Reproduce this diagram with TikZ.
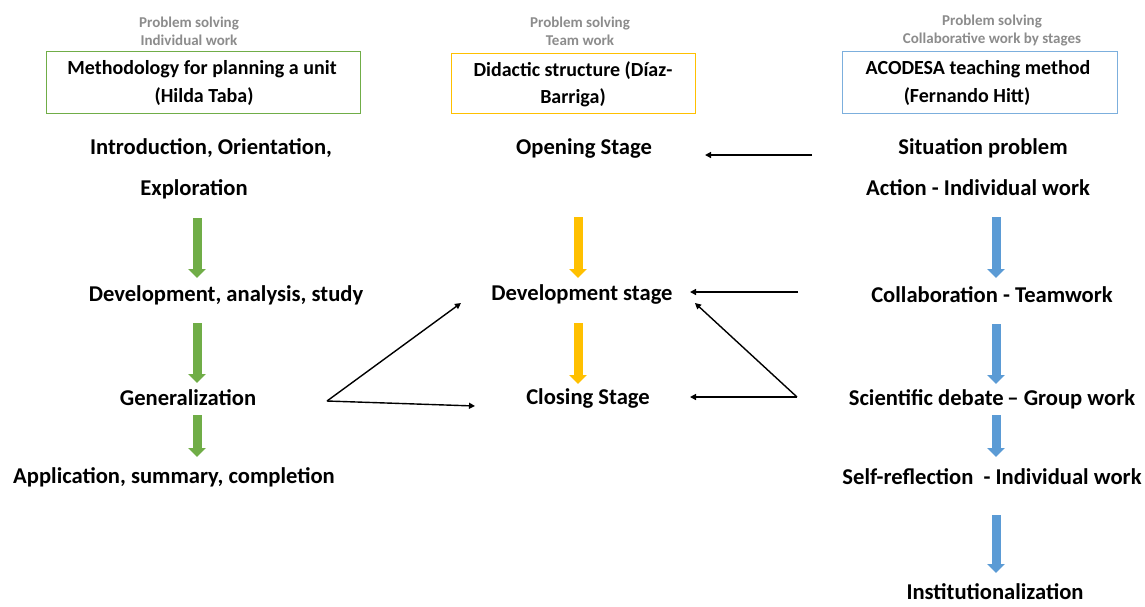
\documentclass[tikz,border=0pt]{standalone}
\usepackage{fontspec}
\setmainfont{Carlito}
\usetikzlibrary{arrows.meta}
\definecolor{cgreen}{HTML}{70AD47}
\definecolor{cyellow}{HTML}{FFC000}
\definecolor{cblue}{HTML}{5B9BD5}
\definecolor{cgray}{HTML}{8C8C8C}
\tikzset{
  hdr/.style={font=\fontsize{15}{18}\selectfont\bfseries, text=cgray, align=center, inner sep=0},
  boxtxt/.style={font=\fontsize{20}{24}\selectfont\bfseries, inner sep=0},
  item/.style={font=\fontsize{22.6}{26}\selectfont\bfseries, inner sep=0},
  frame/.style={draw=#1, line width=1pt},
  blockarrow/.style={draw=#1, line width=9pt, -{Triangle[width=17pt,length=9pt,fill=#1]}},
  link/.style={draw=black, line width=1.4pt, -{Triangle[width=6pt,length=6pt]}}
}
\begin{document}
\begin{tikzpicture}[x=1pt,y=-1pt]
\useasboundingbox (0,0) rectangle (1145,606);
\fill[white] (0,0) rectangle (1145,606);
% headers
\node[hdr] (h1) at (189,31) {Problem solving\\Individual work};
\node[hdr] (h2) at (580,31) {Problem solving\\Team work};
\node[hdr] (h3) at (992,31) {Problem solving\\Collaborative work by stages};
% boxes
\draw[frame=cgreen] (46,51) rectangle (360,113);
\draw[frame=cyellow] (451,53) rectangle (695,113);
\draw[frame=cblue!80] (842,51) rectangle (1117,113);
\node[boxtxt] (b1a) at (202,69) {Methodology for planning a unit};
\node[boxtxt] (b1b) at (204,97) {(Hilda Taba)};
\node[boxtxt] (b2a) at (573,71) {Didactic structure (Díaz-};
\node[boxtxt] (b2b) at (573,98) {Barriga)};
\node[boxtxt] (b3a) at (978,69) {ACODESA teaching method};
\node[boxtxt] (b3b) at (967,97) {(Fernando Hitt)};
% column 1
\node[item] (l1) at (211,148) {Introduction, Orientation,};
\node[item] (l2) at (194,189) {Exploration};
\node[item] (l3) at (226,295) {Development, analysis, study};
\node[item] (l4) at (188,398) {Generalization};
\node[item] (l5) at (174,477) {Application, summary, completion};
% column 2
\node[item] (m1) at (584,148) {Opening Stage};
\node[item] (m2) at (582,294) {Development stage};
\node[item] (m3) at (588,398) {Closing Stage};
% column 3
\node[item] (r1) at (983,148) {Situation problem};
\node[item] (r2) at (978,188) {Action - Individual work};
\node[item] (r3) at (992,295) {Collaboration - Teamwork};
\node[item] (r4) at (992,399) {Scientific debate\,– Group work};
\node[item] (r5) at (992,477) {Self-reflection\ \ - Individual work};
\node[item] (r6) at (995,592) {Institutionalization};
% block arrow coordinates
\coordinate (ga1) at (197,218); \coordinate (gb1) at (197,278);
\coordinate (ga2) at (197,323); \coordinate (gb2) at (197,383);
\coordinate (ga3) at (197,415); \coordinate (gb3) at (197,457);
\coordinate (ya1) at (578,217); \coordinate (yb1) at (578,278);
\coordinate (ya2) at (578,323); \coordinate (yb2) at (578,384);
\coordinate (ba1) at (996,217); \coordinate (bb1) at (996,278);
\coordinate (ba2) at (996,324); \coordinate (bb2) at (996,384);
\coordinate (ba3) at (996,415); \coordinate (bb3) at (996,457);
\coordinate (ba4) at (996,515); \coordinate (bb4) at (996,573);
\draw[blockarrow=cgreen] (ga1) -- (gb1);
\draw[blockarrow=cgreen] (ga2) -- (gb2);
\draw[blockarrow=cgreen] (ga3) -- (gb3);
\draw[blockarrow=cyellow] (ya1) -- (yb1);
\draw[blockarrow=cyellow] (ya2) -- (yb2);
\draw[blockarrow=cblue] (ba1) -- (bb1);
\draw[blockarrow=cblue] (ba2) -- (bb2);
\draw[blockarrow=cblue] (ba3) -- (bb3);
\draw[blockarrow=cblue] (ba4) -- (bb4);
% black links
\coordinate (s1) at (812,155); \coordinate (t1) at (705,155);
\coordinate (s2) at (798,292); \coordinate (t2) at (690,292);
\coordinate (s3) at (797,397); \coordinate (t3) at (690,397);
\coordinate (t4) at (695,303);
\coordinate (s5) at (327,401); \coordinate (t5) at (461,303); \coordinate (t6) at (475,406);
\draw[link] (s1) -- (t1);
\draw[link] (s2) -- (t2);
\draw[link] (s3) -- (t3);
\draw[link] (s3) -- (t4);
\draw[link] (s5) -- (t5);
\draw[link] (s5) -- (t6);
\end{tikzpicture}
\end{document}
